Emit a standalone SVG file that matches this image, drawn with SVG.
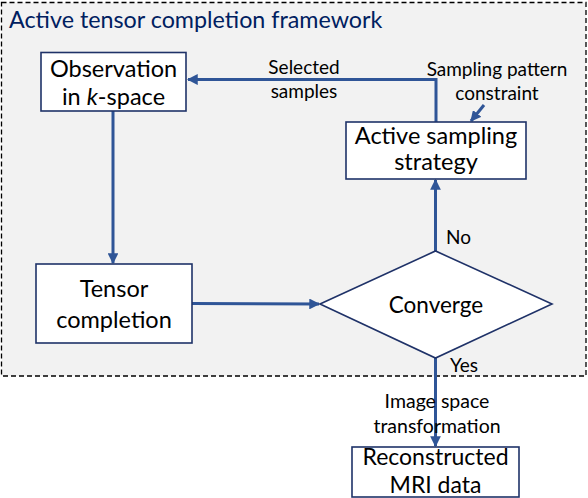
<svg xmlns="http://www.w3.org/2000/svg" width="588" height="498" viewBox="0 0 588 498">
<style>
text{font-family:Lato,"Open Sans","Liberation Sans",sans-serif;fill:#000;}
.box{fill:#fff;stroke:#1f3268;stroke-width:1.6;}
.big{font-size:23.5px;text-anchor:middle;}
.lbl{font-size:19px;text-anchor:middle;}
.conn{stroke:#2f5597;stroke-width:3;fill:none;}
</style>
<defs>
<marker id="ah" viewBox="0 0 10 10" refX="9" refY="5" markerWidth="3.6" markerHeight="3.6" orient="auto" markerUnits="strokeWidth">
<path d="M0,0 L10,5 L0,10 z" fill="#2f5597"/>
</marker>
</defs>
<g id="frame">
<rect x="1.5" y="2.5" width="584.5" height="373.5" fill="#f2f2f2" stroke="#000" stroke-width="1.3" stroke-dasharray="5,3"/>
<text x="9" y="28" style="font-size:23.3px;fill:#002060">Active tensor completion framework</text>
</g>
<g id="connectors">
<polyline class="conn" points="436,122 436,79.5 188,79.5" marker-end="url(#ah)"/>
<line class="conn" x1="113" y1="111" x2="113" y2="263" marker-end="url(#ah)"/>
<line class="conn" x1="192" y1="303.5" x2="319" y2="304" marker-end="url(#ah)"/>
<line class="conn" x1="435.5" y1="251" x2="435.5" y2="180" marker-end="url(#ah)"/>
<line class="conn" x1="435.5" y1="358" x2="435.5" y2="446" marker-end="url(#ah)"/>
<line class="conn" x1="484" y1="105" x2="471" y2="121" marker-end="url(#ah)"/>
</g>
<g id="labels">
<text class="lbl" x="304" y="74">Selected</text>
<text class="lbl" x="304" y="98">samples</text>
<text class="lbl" x="497" y="76">Sampling pattern</text>
<text class="lbl" x="497" y="100">constraint</text>
<text x="446" y="244" style="font-size:19px">No</text>
<text x="450" y="372" style="font-size:19px">Yes</text>
<text class="lbl" x="437" y="408" style="font-size:19.5px">Image space</text>
<text class="lbl" x="437" y="433" style="font-size:19.5px">transformation</text>
</g>
<g id="observation">
<rect class="box" x="41" y="52.5" width="145" height="58.5"/>
<text class="big" x="113.5" y="77">Observation</text>
<text class="big" x="113.5" y="105">in <tspan font-style="italic">k</tspan>-space</text>
</g>
<g id="active-sampling">
<rect class="box" x="346" y="122" width="180" height="57"/>
<text class="big" x="436" y="144">Active sampling</text>
<text class="big" x="436" y="170">strategy</text>
</g>
<g id="tensor-completion">
<rect class="box" x="36" y="264" width="156" height="79"/>
<text class="big" x="114" y="297">Tensor</text>
<text class="big" x="114" y="328">completion</text>
</g>
<g id="converge">
<polygon class="box" points="320,304 435.5,251 552,304 435.5,358"/>
<text class="big" x="436" y="313" style="font-size:22.5px">Converge</text>
</g>
<g id="reconstructed">
<rect class="box" x="352" y="447" width="167" height="50"/>
<text class="big" x="435.5" y="465" style="font-size:23px">Reconstructed</text>
<text class="big" x="435.5" y="493" style="font-size:23px">MRI data</text>
</g>
</svg>
